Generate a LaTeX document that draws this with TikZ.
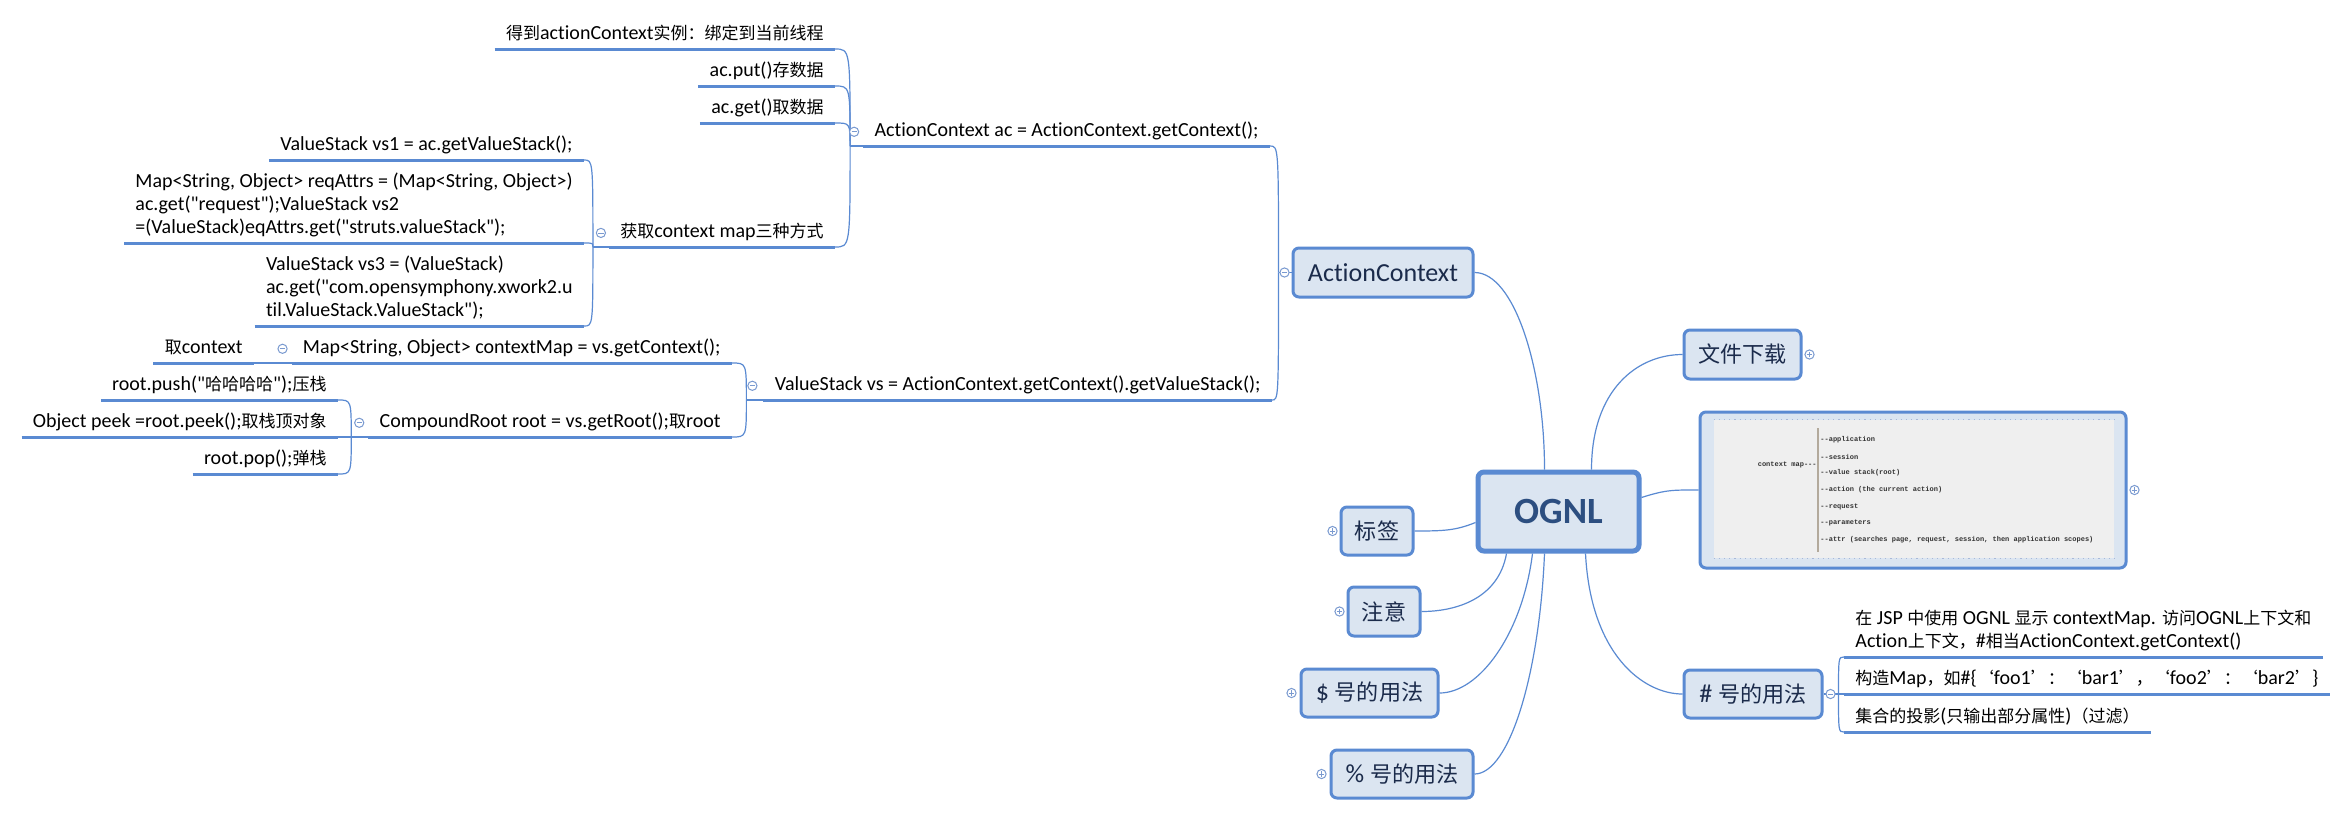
\documentclass[tikz,border=0pt]{standalone}
\usepackage{fontspec}
\setmainfont{Carlito}[Ligatures={TeXOff,CommonOff}]
\newfontfamily\zhf[Scale=0.85]{Noto Sans CJK SC}
\newfontfamily\monof{Liberation Mono}
\newcommand\zh[1]{{\zhf #1}}
\newcommand\lastdepth{\rule[-2.5pt]{0pt}{2.5pt}}
\usetikzlibrary{calc}
\definecolor{lineblue}{HTML}{5A8AD2}
\definecolor{boxfill}{HTML}{DBE5F1}
\definecolor{boxtext}{HTML}{1B2B4B}
\definecolor{ognltext}{HTML}{2C4E80}
\definecolor{iconcol}{HTML}{7A9AD0}
\definecolor{innergray}{HTML}{EFEFEF}
\definecolor{dotcol}{HTML}{A8B8D8}
\definecolor{barcol}{HTML}{B3AA9C}
\tikzset{
  ul/.style={inner xsep=5.5pt, inner ysep=2pt, font=\fontsize{10}{11.5}\selectfont, text=black},
  ulone/.style={ul, text depth=2.5pt},
  uline/.style={draw=lineblue, line width=1.5pt},
  conn/.style={draw=lineblue, line width=0.6pt},
  topic/.style={draw=lineblue, line width=1.5pt, fill=boxfill, rounded corners=3pt,
    text=boxtext, font=\fontsize{13}{15}\selectfont, inner sep=0pt},
  iconbase/.style={circle, draw=iconcol, fill=white, line width=0.5pt, minimum size=4.6pt, inner sep=0pt},
  iconminus/.style={iconbase, path picture={\draw[iconcol, line width=0.4pt]
     ([xshift=-1.3pt]path picture bounding box.center) -- ([xshift=1.3pt]path picture bounding box.center);}},
  iconplus/.style={iconbase, path picture={\draw[iconcol, line width=0.4pt]
     ([xshift=-1.3pt]path picture bounding box.center) -- ([xshift=1.3pt]path picture bounding box.center)
     ([yshift=-1.3pt]path picture bounding box.center) -- ([yshift=1.3pt]path picture bounding box.center);}},
  mono/.style={font=\monof\bfseries\fontsize{3.5}{4}\selectfont, text=black!80, inner sep=0pt},
}
\begin{document}
\begin{tikzpicture}[x=0.5pt,y=-0.5pt]
\useasboundingbox (0,0) rectangle (2349,815);
\fill[white] (0,0) rectangle (2349,815);

% ---------- boxes ----------
\node[topic, draw=lineblue, line width=2.5pt, minimum width=80.5pt, minimum height=39.5pt,
      text=ognltext, font=\bfseries\fontsize{18.5}{20}\selectfont] (OG) at (1558.5,511.5) {OGNL};
\node[topic, minimum width=90pt, minimum height=24.5pt] (AC) at (1383,272.5) {ActionContext};
\node[topic, minimum width=58.5pt, minimum height=24.5pt] (DL) at (1742.5,354.5) {\zh{文件下载}};
\node[topic, minimum width=36pt, minimum height=24pt] (TAG) at (1377,531) {\zh{标签}};
\node[topic, minimum width=36pt, minimum height=24.5pt] (NOTE) at (1384,611.5) {\zh{注意}};
\node[topic, minimum width=68.5pt, minimum height=24pt] (DOL) at (1369.5,693) {\$ \zh{号的用法}};
\node[topic, minimum width=71pt, minimum height=24pt] (PCT) at (1402,774) {\% \zh{号的用法}};
\node[topic, minimum width=69pt, minimum height=24pt] (H) at (1753,694) {\# \zh{号的用法}};
\node[topic, minimum width=213pt, minimum height=78pt] (IMG) at (1913,490) {};
\node[fill=innergray, minimum width=200pt, minimum height=69pt, inner sep=0pt] (IMGin) at (1914,489) {};
\draw[dotcol, dotted, line width=0.6pt] (IMGin.north west) -- (IMGin.north east);
\draw[dotcol, dotted, line width=0.6pt] (IMGin.south west) -- (IMGin.south east);
\draw[barcol, line width=0.7pt] (1818,428) -- (1818,552);
\node[mono, anchor=east] (cmap) at (1817,465) {context map-{}-{}-};
\node[mono, anchor=west] (m1) at (1820,440) {-{}-application};
\node[mono, anchor=west] (m2) at (1820,457) {-{}-session};
\node[mono, anchor=west] (m3) at (1820,473) {-{}-value stack(root)};
\node[mono, anchor=west] (m4) at (1820,490) {-{}-action (the current action)};
\node[mono, anchor=west] (m5) at (1820,507) {-{}-request};
\node[mono, anchor=west] (m6) at (1820,523) {-{}-parameters};
\node[mono, anchor=west] (m7) at (1820,540) {-{}-attr (searches page, request, session, then application scopes)};

% ---------- underlined text nodes (left side) ----------
\node[ulone, anchor=south east] (n1) at (835,49) {\zh{得到}actionContext\zh{实例：绑定到当前线程}};
\node[ulone, anchor=south east] (n2) at (835,86) {ac.put()\zh{存数据}};
\node[ulone, anchor=south east] (n3) at (835,123) {ac.get()\zh{取数据}};
\node[ulone, anchor=south east] (n4) at (835,247) {\zh{获取}context map\zh{三种方式}};
\node[ulone, anchor=south east] (ac) at (1270,146) {ActionContext ac = ActionContext.getContext();};
\node[ulone, anchor=south east] (vs1) at (584,160) {ValueStack vs1 = ac.getValueStack();};
\node[ul, anchor=south east, align=left] (vs2) at (584,243)
  {Map<String, Object> reqAttrs = (Map<String, Object>)\\ac.get("request");ValueStack vs2\\=(ValueStack)eqAttrs.get("struts.valueStack");\lastdepth};
\node[ul, anchor=south east, align=left] (vs3) at (584,326)
  {ValueStack vs3 = (ValueStack)\\ac.get("com.opensymphony.xwork2.u\\til.ValueStack.ValueStack");\lastdepth};
\node[ulone, anchor=south east] (vs) at (1272,400) {ValueStack vs = ActionContext.getContext().getValueStack();};
\node[ulone, anchor=south east] (cm) at (732,363) {Map<String, Object> contextMap = vs.getContext();};
\node[ulone, anchor=south east] (ctx) at (254,363) {\zh{取}context};
\node[ulone, anchor=south east] (cr) at (732,437) {CompoundRoot root = vs.getRoot();\zh{取}root};
\node[ulone, anchor=south east] (push) at (338,400) {root.push("\zh{哈哈哈哈}");\zh{压栈}};
\node[ulone, anchor=south east] (peek) at (338,437) {Object peek =root.peek();\zh{取栈顶对象}};
\node[ulone, anchor=south east] (pop) at (338,474) {root.pop();\zh{弹栈}};

% ---------- underlined text nodes (right side) ----------
\node[ul, anchor=south west, align=left] (h1) at (1844,657)
  {\zh{在} JSP \zh{中使用} OGNL \zh{显示} contextMap. \zh{访问}OGNL\zh{上下文和}\\Action\zh{上下文，}\#\zh{相当}ActionContext.getContext()\lastdepth};
\node[ulone, anchor=south west] (h2) at (1844,694)
  {\zh{构造}Map\zh{，如}\#\{\zh{‘}foo1\zh{’：‘}bar1\zh{’，‘}foo2\zh{’：‘}bar2\zh{’}\}};
\node[ulone, anchor=south west] (h3) at (1844,732) {\zh{集合的投影}(\zh{只输出部分属性})\zh{（过滤）}};

% ---------- junctions ----------
\coordinate (jac) at ($(ac.south west)+(-13,0)$);
\coordinate (jn4) at ($(n4.south west)+(-16,0)$);
\coordinate (jvs) at ($(vs.south west)+(-17,0)$);
\coordinate (jcr) at ($(cr.south west)+(-17,0)$);
\coordinate (jAC) at ($(AC.west)+(-13,0)$);
\coordinate (jH) at ($(H.east)+(15,0)$);

% ---------- connectors ----------
\draw[conn] (jac) -- (ac.south west);
\foreach \c in {n1,n2,n3,n4} \draw[conn] (\c.south east) .. controls (\c.south east -| jac) .. (jac);
\draw[conn] (jn4) -- (n4.south west);
\foreach \c in {vs1,vs2,vs3} \draw[conn] (\c.south east) .. controls (\c.south east -| jn4) .. (jn4);
\draw[conn] (jvs) -- (vs.south west);
\foreach \c in {cm,cr} \draw[conn] (\c.south east) .. controls (\c.south east -| jvs) .. (jvs);
\draw[conn] (ctx.south east) -- (cm.south west);
\draw[conn] (jcr) -- (cr.south west);
\foreach \c in {push,peek,pop} \draw[conn] (\c.south east) .. controls (\c.south east -| jcr) .. (jcr);
\draw[conn] (jAC) -- (AC.west);
\foreach \c in {ac,vs} \draw[conn] (\c.south east) .. controls (\c.south east -| jAC) .. (jAC);
\draw[conn] (H.east) -- (jH);
\foreach \c in {h1,h2,h3} \draw[conn] (jH) .. controls (jH |- \c.south west) .. (\c.south west);

\draw[conn] (AC.east) .. controls +(40,0) and +(0,-100) .. ($(OG.north)+(-14,0)$);
\draw[conn] ($(OG.north)+(33,0)$) .. controls +(0,-80) and +(-45,0) .. (DL.west);
\draw[conn] ($(OG.east)+(0,-14)$) .. controls +(25,-8) and +(-25,0) .. (IMG.west);
\draw[conn] (TAG.east) .. controls +(30,0) and +(-20,8) .. ($(OG.west)+(0,11)$);
\draw[conn] (NOTE.east) .. controls +(35,0) and +(-8,45) .. ($(OG.south)+(-52,0)$);
\draw[conn] (DOL.east) .. controls +(40,0) and +(-10,80) .. ($(OG.south)+(-26,0)$);
\draw[conn] (PCT.east) .. controls +(35,0) and +(-5,120) .. ($(OG.south)+(-14,0)$);
\draw[conn] ($(OG.south)+(27,0)$) .. controls +(5,100) and +(-40,0) .. (H.west);

% ---------- underlines ----------
\foreach \n in {n1,n2,n3,n4,ac,vs1,vs2,vs3,vs,cm,ctx,cr,push,peek,pop,h1,h2,h3}
  \draw[uline] (\n.south west) -- (\n.south east);

% ---------- icons ----------
\node[iconminus] (i1) at ($(ac.west)+(-9,0)$) {};
\node[iconminus] (i2) at ($(n4.west)+(-8,0)$) {};
\node[iconminus] (i3) at ($(cm.west)+(-9,0)$) {};
\node[iconminus] (i4) at ($(cr.west)+(-9,0)$) {};
\node[iconminus] (i5) at ($(vs.west)+(-11,0)$) {};
\node[iconminus] (i6) at ($(AC.west)+(-7,0)$) {};
\node[iconplus] (i7) at ($(DL.east)+(7,0)$) {};
\node[iconplus] (i8) at ($(IMG.east)+(7,0)$) {};
\node[iconplus] (i9) at ($(TAG.west)+(-7,0)$) {};
\node[iconplus] (i10) at ($(NOTE.west)+(-7,0)$) {};
\node[iconplus] (i11) at ($(DOL.west)+(-8,0)$) {};
\node[iconplus] (i12) at ($(PCT.west)+(-8,0)$) {};
\node[iconminus] (i13) at ($(H.east)+(7,0)$) {};
\end{tikzpicture}
\end{document}
